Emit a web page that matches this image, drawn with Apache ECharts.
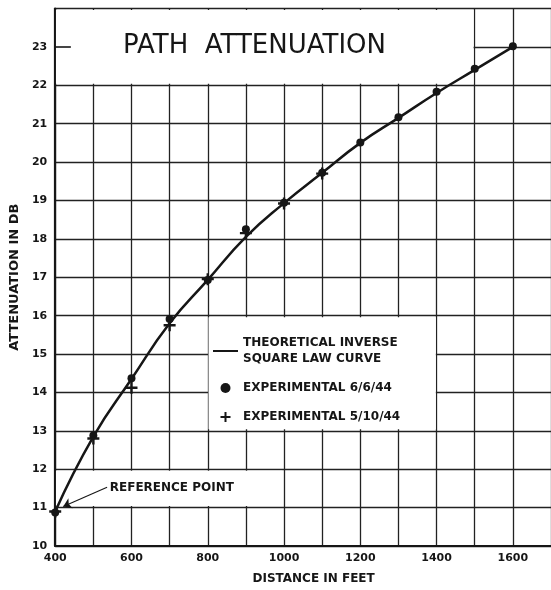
<!DOCTYPE html>
<html>
<head>
<meta charset="utf-8">
<script src="https://cdn.jsdelivr.net/npm/echarts@6/dist/echarts.min.js"></script>
<style>html,body{margin:0;padding:0;background:#fff;}#c{width:551px;height:590px;}</style>
</head>
<body>
<div id="c"></div>
<script>
// ---- data ----
const distances = [400, 500, 600, 700, 800, 900, 1000, 1100, 1200, 1300, 1400, 1500, 1600];
const theoretical = [10.9, 12.85, 14.35, 15.8, 16.93, 18.05, 18.93, 19.72, 20.5, 21.15, 21.8, 22.4, 23.0];
const exp660 = [10.87, 12.88, 14.37, 15.91, 16.93, 18.25, 18.94, 19.72, 20.51, 21.17, 21.83, 22.43, 23.02];
const exp51044Dist = [400, 500, 600, 700, 800, 900, 1000, 1100];
const exp51044 = [10.9, 12.8, 14.12, 15.75, 16.95, 18.15, 18.92, 19.7];

const seriesNames = ['THEORETICAL INVERSE\nSQUARE LAW CURVE', 'EXPERIMENTAL 6/6/44', 'EXPERIMENTAL 5/10/44'];
const titleText = 'PATH  ATTENUATION';
const xName = 'DISTANCE IN FEET';
const yName = 'ATTENUATION IN DB';
const refLabel = 'REFERENCE POINT';

const INK = '#161616';
const FONT = 'DejaVu Sans';
const plusPath = 'path://M4,0H6V4H10V6H6V10H4V6H0V4H4Z';
const linePath = 'path://M0,4H25V6H0Z';

const pair = (xs, ys) => xs.map((x, i) => [x, ys[i]]);

const chart = echarts.init(document.getElementById('c'), null, {renderer: 'canvas'});
chart.setOption({
  backgroundColor: '#fff',
  animation: false,
  title: {
    text: titleText,
    left: 123, top: 33, padding: 0,
    textStyle: {fontFamily: FONT, fontSize: 26, fontWeight: 'normal', color: INK}
  },
  legend: {
    orient: 'vertical', left: 213, top: 335, padding: 0,
    itemWidth: 25, itemHeight: 10, itemGap: 13,
    selectedMode: false,
    textStyle: {fontFamily: FONT, fontSize: 12, fontWeight: 'bold', color: INK, lineHeight: 16},
    data: [
      {name: seriesNames[0], icon: linePath},
      {name: seriesNames[1], icon: 'circle'},
      {name: seriesNames[2], icon: plusPath}
    ]
  },
  grid: {left: 49, right: -3, top: 8.5, bottom: 41, containLabel: false},
  xAxis: {
    type: 'value', min: 400, max: 1700, interval: 100,
    name: xName, nameLocation: 'middle', nameGap: 27,
    nameTextStyle: {fontFamily: FONT, fontSize: 12, fontWeight: 'bold', color: INK, padding: [0, 0, 0, 21]},
    axisLine: {show: true, lineStyle: {color: INK, width: 2.2}},
    axisTick: {show: false},
    axisLabel: {
      margin: 7, fontFamily: FONT, fontSize: 11, fontWeight: 'bold', color: INK,
      showMaxLabel: false,
      formatter: v => (v % 200 === 0 ? String(v) : '')
    },
    splitLine: {show: true, lineStyle: {color: '#222', width: 1.3}}
  },
  yAxis: {
    type: 'value', min: 10, max: 24, interval: 1,
    name: yName, nameLocation: 'middle', nameGap: 29, nameRotate: 90,
    nameTextStyle: {fontFamily: FONT, fontSize: 13, fontWeight: 'bold', color: INK},
    axisLine: {show: true, lineStyle: {color: INK, width: 2.2}},
    axisTick: {show: false},
    axisLabel: {margin: 8, fontFamily: FONT, fontSize: 11, fontWeight: 'bold', color: INK, showMaxLabel: false},
    splitLine: {show: true, lineStyle: {color: '#222', width: 1.3}}
  },
  series: [
    {
      name: 'boxes', type: 'line', data: [], z: 1, silent: true, symbol: 'none',
      markArea: {
        silent: true,
        itemStyle: {color: '#fff', borderWidth: 0},
        label: {show: false},
        data: [
          [{coord: [402, 22.04]}, {coord: [1497, 23.96]}],
          [{coord: [802, 13.04]}, {coord: [1398, 15.96]}],
          [{coord: [402, 11.04]}, {coord: [996, 11.96]}]
        ]
      },
      markLine: {
        silent: true, symbol: 'none', animation: false,
        lineStyle: {color: INK, width: 1.6, type: 'solid'},
        label: {show: false},
        data: [[{coord: [400, 23]}, {coord: [441, 23]}]]
      }
    },
    {
      name: seriesNames[0], type: 'line', smooth: true, symbol: 'none', z: 3,
      data: pair(distances, theoretical),
      lineStyle: {color: INK, width: 2.5},
      itemStyle: {color: INK},
      markLine: {
        silent: true, symbol: ['none', 'arrow'], symbolSize: 8,
        lineStyle: {color: INK, width: 1.1, type: 'solid'},
        label: {show: false},
        data: [[{coord: [536, 11.53]}, {coord: [421, 11.03]}]]
      },
      markPoint: {
        silent: true, symbol: 'circle', symbolSize: 0,
        label: {
          show: true, position: 'right', distance: 0, formatter: refLabel,
          fontFamily: FONT, fontSize: 12, fontWeight: 'bold', color: INK
        },
        data: [{coord: [543, 11.52]}]
      }
    },
    {
      name: seriesNames[1], type: 'scatter', z: 4,
      data: pair(distances, exp660),
      symbol: 'circle', symbolSize: 8,
      itemStyle: {color: INK, opacity: 1}
    },
    {
      name: seriesNames[2], type: 'scatter', z: 4,
      data: pair(exp51044Dist, exp51044),
      symbol: plusPath, symbolSize: 12,
      itemStyle: {color: INK, opacity: 1}
    }
  ]
});
</script>
</body>
</html>
